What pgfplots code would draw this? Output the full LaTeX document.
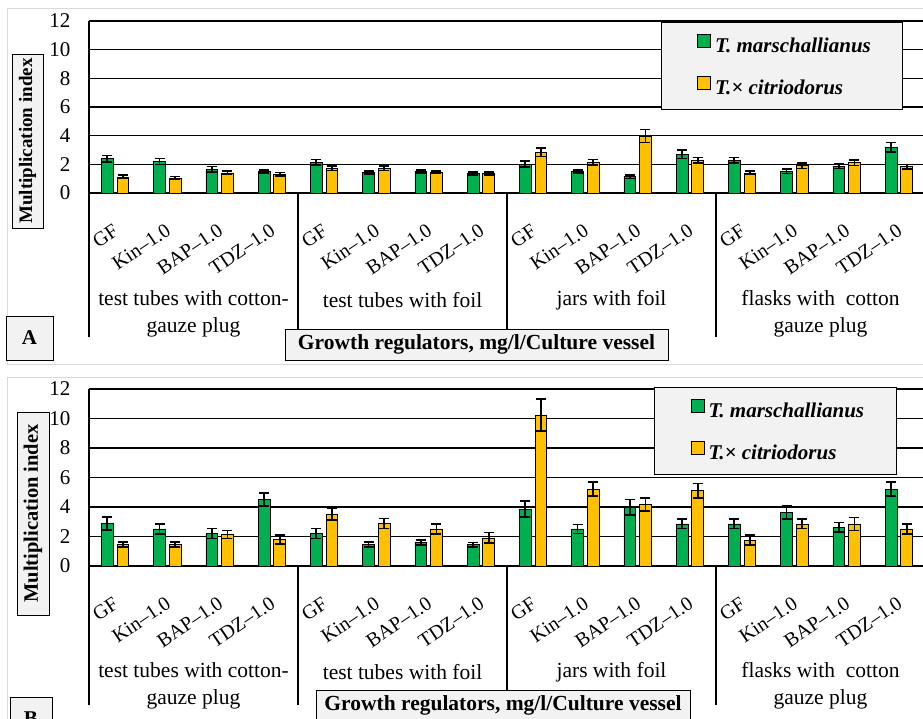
\documentclass[border=0pt]{standalone}
\usepackage{fontspec}
\setmainfont{Liberation Serif}
\usepackage{pgfplots}
\usepackage{pgfplotstable}
\pgfplotsset{compat=1.18}
\definecolor{mgreen}{HTML}{00B050}
\definecolor{myellow}{HTML}{FFC000}
\definecolor{lgray}{HTML}{F2F2F2}
\definecolor{fgray}{HTML}{D9D9D9}
\newcommand{\fsz}[1]{\fontsize{#1}{#1}\selectfont}

\pgfplotstableread{
x g ge y ye
0 2.40 0.22 1.12 0.12
1 2.20 0.20 1.05 0.10
2 1.65 0.20 1.40 0.12
3 1.50 0.12 1.30 0.12
4 2.15 0.20 1.72 0.15
5 1.42 0.10 1.72 0.15
6 1.50 0.12 1.45 0.10
7 1.37 0.10 1.37 0.10
8 2.02 0.22 2.86 0.30
9 1.50 0.12 2.14 0.20
10 1.14 0.12 3.98 0.45
11 2.72 0.30 2.28 0.20
12 2.28 0.20 1.40 0.12
13 1.51 0.15 1.90 0.20
14 1.86 0.15 2.12 0.20
15 3.19 0.33 1.84 0.15
}\dataA

\pgfplotstableread{
x g ge y ye
0 2.88 0.43 1.45 0.18
1 2.51 0.34 1.45 0.18
2 2.20 0.33 2.13 0.27
3 4.51 0.43 1.79 0.30
4 2.20 0.33 3.53 0.41
5 1.45 0.18 2.88 0.34
6 1.59 0.16 2.51 0.34
7 1.45 0.15 1.90 0.36
8 3.85 0.54 10.24 1.09
9 2.51 0.31 5.21 0.48
10 3.99 0.52 4.17 0.45
11 2.85 0.32 5.10 0.50
12 2.85 0.32 1.75 0.34
13 3.63 0.43 2.85 0.32
14 2.63 0.32 2.85 0.43
15 5.21 0.48 2.51 0.32
}\dataB

\pgfplotsset{panel/.style={
  scale only axis, width=836pt,
  xmin=-0.5, xmax=15.5, ymin=0, ymax=12,
  ybar, bar width=0.225,
  axis lines=left, axis line style={-, black, line width=1.2pt},
  ytick={0,2,...,12}, ymajorgrids, grid style={black, line width=1.2pt},
  ytick style={draw=none}, major tick length=0pt,
  xtick={0,...,15},
  xticklabels={GF,Kin\textendash1.0,BAP\textendash1.0,TDZ\textendash1.0,
               GF,Kin\textendash1.0,BAP\textendash1.0,TDZ\textendash1.0,
               GF,Kin\textendash1.0,BAP\textendash1.0,TDZ\textendash1.0,
               GF,Kin\textendash1.0,BAP\textendash1.0,TDZ\textendash1.0},
  extra x ticks={-0.5,3.5,7.5,11.5}, extra x tick labels={},
  yticklabel style={font=\fsz{21}, xshift=-15pt},
  /pgf/number format/assume math mode=true,
  xticklabel style={font=\fsz{20}, rotate=34, anchor=north east, inner sep=0pt, yshift=-23pt, xshift=-19pt},
  error bars/y dir=both, error bars/y explicit,
  error bars/error bar style={black, line width=1.6pt},
  error bars/error mark options={rotate=90, black, line width=1.6pt, mark size=5pt},
  legend image code/.code={\path (0pt,0pt); \draw[#1, line width=1pt] (6pt,-2pt) rectangle (19pt,11pt);},
  legend cell align=left,
  legend style={draw=black, line width=1pt, fill=lgray, anchor=north west,
     font=\fsz{21}\bfseries\itshape, inner xsep=30pt, inner ysep=11.5pt, row sep=20.5pt},
}}

\begin{document}
\begin{tikzpicture}[x=1pt,y=1pt]
\path[use as bounding box] (0,0) rectangle (923,-718);
\draw[fgray, line width=1pt] (7,-8) rectangle (935,-364);
\draw[fgray, line width=1pt] (7,-377) rectangle (935,-735);

% ---------- Panel A ----------
\begin{axis}[panel, at={(89pt,-193pt)}, anchor=south west, height=172pt,
  extra x tick style={grid=none, tick align=outside, major tick length=144pt,
     tick style={draw=black, line width=1.2pt}},
  legend style={at={(0.684,0.994)}}]
\addplot[fill=mgreen, draw=black, line width=0.8pt, bar shift=-0.15]
  table[x=x, y=g, y error=ge] {\dataA};
\addlegendentry{\hspace{2pt}T. marschallianus\hspace{24pt}}
\addplot[fill=myellow, draw=black, line width=0.8pt, bar shift=0.15]
  table[x=x, y=y, y error=ye] {\dataA};
\addlegendentry{\hspace{2pt}T.× citriodorus}
\end{axis}

% ---------- Panel B ----------
\begin{axis}[panel, at={(89pt,-566pt)}, anchor=south west, height=177pt,
  extra x tick style={grid=none, tick align=outside, major tick length=139pt,
     tick style={draw=black, line width=1.2pt}},
  legend style={at={(0.676,1.011)}}]
\addplot[fill=mgreen, draw=black, line width=0.8pt, bar shift=-0.15]
  table[x=x, y=g, y error=ge] {\dataB};
\addlegendentry{\hspace{2pt}T. marschallianus\hspace{24pt}}
\addplot[fill=myellow, draw=black, line width=0.8pt, bar shift=0.15]
  table[x=x, y=y, y error=ye] {\dataB};
\addlegendentry{\hspace{2pt}T.× citriodorus}
\end{axis}

% ---------- vessel labels ----------
\begin{scope}[every node/.style={align=center, font=\fontsize{21.5}{27}\selectfont}]
\node at (193.5,-313.5) {test tubes with cotton-\\gauze plug};
\node at (402.5,-300) {test tubes with foil};
\node at (611.5,-300) {jars with foil};
\node at (820.5,-313.5) {flasks with\ \ cotton\\gauze plug};
\node at (193.5,-685.5) {test tubes with cotton-\\gauze plug};
\node at (402.5,-672) {test tubes with foil};
\node at (611.5,-672) {jars with foil};
\node at (820.5,-685.5) {flasks with\ \ cotton\\gauze plug};
\end{scope}

% ---------- boxes ----------
\node[draw=black, line width=1pt, fill=lgray, rotate=90, minimum width=174pt, minimum height=31pt,
  inner sep=0pt, font=\fsz{19}\bfseries] at (27.5,-141) {Multiplication index};
\node[draw=black, line width=1pt, fill=lgray, rotate=90, minimum width=203pt, minimum height=32pt,
  inner sep=0pt, font=\fsz{20.5}\bfseries] at (33,-513.5) {Multiplication index};

\node[draw=black, line width=1pt, fill=lgray, minimum width=383pt, minimum height=31pt,
  inner sep=0pt, font=\fsz{21.5}\bfseries] at (476.5,-344.5) {Growth regulators, mg/l/Culture vessel};
\node[draw=black, line width=1pt, fill=lgray, minimum width=374pt, minimum height=31pt,
  inner sep=0pt, font=\fsz{21.5}\bfseries] at (503,-705.5) {Growth regulators, mg/l/Culture vessel};

\node[draw=black, line width=1pt, fill=lgray, minimum width=47pt, minimum height=44pt,
  inner sep=0pt, font=\fsz{21}\bfseries] at (29.5,-338) {A};
\node[draw=black, line width=1pt, fill=lgray, minimum width=42pt, minimum height=44pt,
  inner sep=0pt, font=\fsz{21}\bfseries] at (31,-719) {B};
\end{tikzpicture}
\end{document}
